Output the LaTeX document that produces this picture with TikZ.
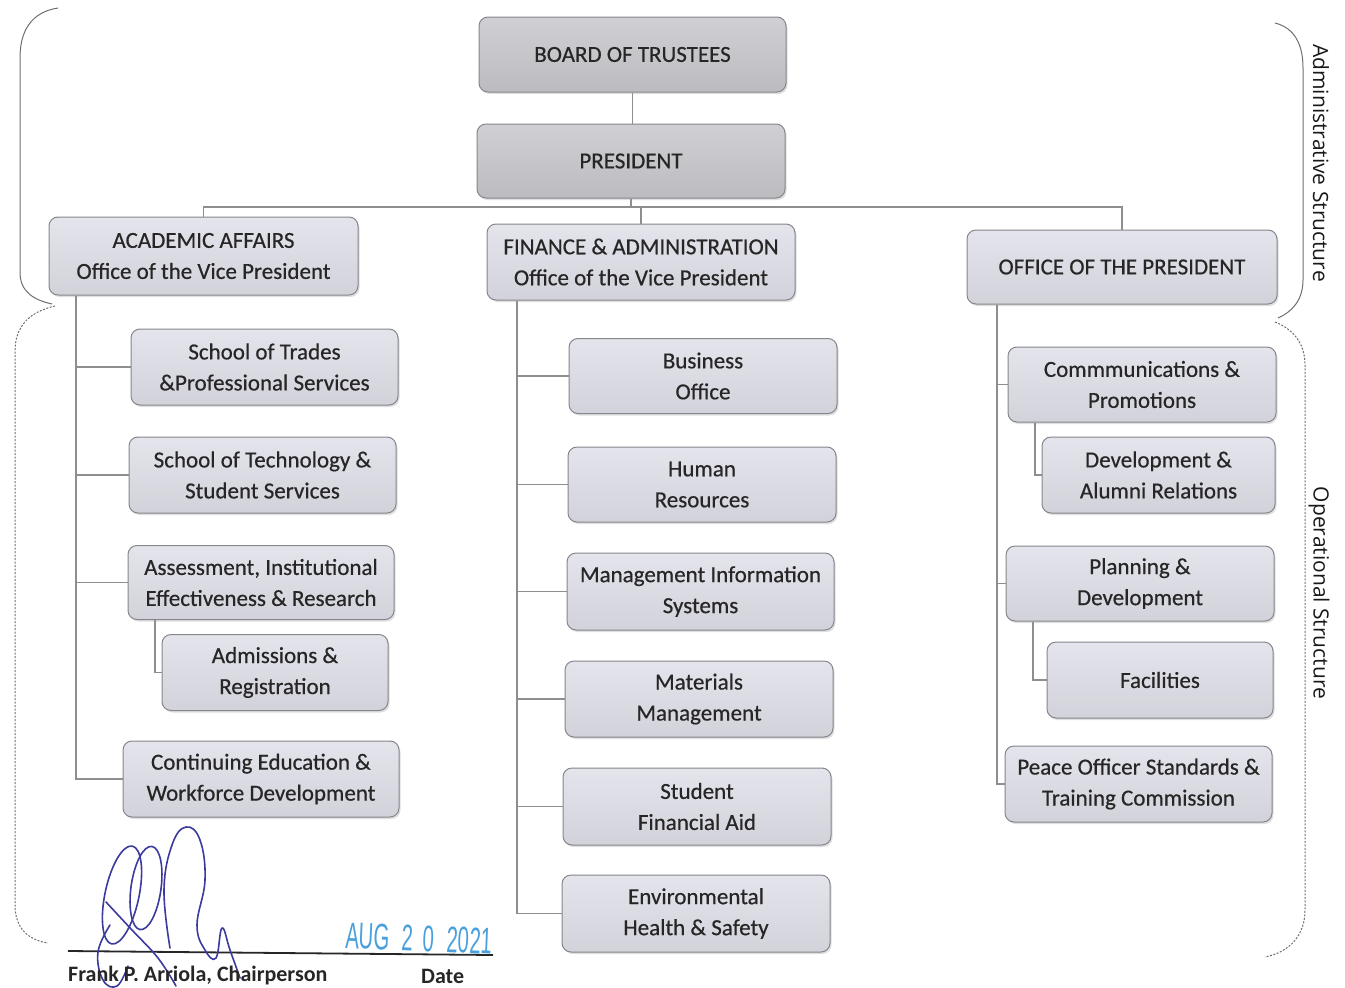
\documentclass[tikz,border=0pt]{standalone}
\usepackage{fontspec}
\setmainfont{Carlito}
\newfontfamily\boxfont[FakeBold=0.5]{Carlito}
\newfontfamily\sidefont{Open Sans}
\newfontfamily\stampfont{Liberation Sans}
\usetikzlibrary{shadows}
\definecolor{boxtop}{HTML}{E4E4EC}
\definecolor{boxbot}{HTML}{D2D2DA}
\definecolor{toptop}{HTML}{D0D0D4}
\definecolor{topbot}{HTML}{BCBCC0}
\definecolor{boxline}{HTML}{86868C}
\definecolor{textcol}{HTML}{262626}
\definecolor{linecol}{HTML}{8E8E8E}
\definecolor{bracecol}{HTML}{6E6E6E}
\definecolor{sigblue}{HTML}{3B3A9E}
\definecolor{stampblue}{HTML}{4AA0DC}
\begin{document}
\begin{tikzpicture}[x=1pt,y=-1pt,
  orgbox/.style={draw=boxline, line width=1pt, rounded corners=9pt, top color=boxtop, bottom color=boxbot,
    align=center, inner sep=0pt, font=\boxfont\fontsize{23}{31}\selectfont, text=textcol,
    drop shadow={shadow xshift=1.5pt, shadow yshift=-2pt, opacity=0.25}},
  topbox/.style={orgbox, top color=toptop, bottom color=topbot},
  link/.style={draw=linecol, line width=1.3pt},
  bracesolid/.style={draw=bracecol, line width=1pt},
  bracedash/.style={draw=bracecol, line width=1pt, dash pattern=on 2pt off 1.5pt},
  sidetext/.style={font=\sidefont\fontsize{21}{21}\selectfont, text=black!90},
  sig/.style={draw=sigblue, line width=1.6pt, line cap=round, line join=round},
  foot/.style={font=\bfseries\fontsize{22}{22}\selectfont, text=black!85, anchor=base west, inner sep=0pt}
]
\useasboundingbox (0,0) rectangle (1345,988);

% top level
\node[topbox, minimum width=307, minimum height=75] (board) at (632.5,54.5) {BOARD OF TRUSTEES};
\node[topbox, minimum width=308, minimum height=74] (pres) at (631,161) {PRESIDENT};

\node[orgbox, minimum width=309, minimum height=78] (aa) at (203.5,256) {ACADEMIC AFFAIRS\\Office of the Vice President};
\node[orgbox, minimum width=308, minimum height=76] (fin) at (641,262) {FINANCE \& ADMINISTRATION\\Office of the Vice President};
\node[orgbox, minimum width=310, minimum height=74] (office) at (1122,267) {OFFICE OF THE PRESIDENT};

% left column
\node[orgbox, minimum width=267, minimum height=76] (trades) at (264.5,367) {School of Trades\\\&Professional Services};
\node[orgbox, minimum width=267, minimum height=76] (tech) at (262.5,475) {School of Technology \&\\Student Services};
\node[orgbox, minimum width=266, minimum height=74] (assess) at (261,582.5) {Assessment, Institutional\\Effectiveness \& Research};
\node[orgbox, minimum width=226, minimum height=76] (adm) at (275,672.5) {Admissions \&\\Registration};
\node[orgbox, minimum width=276, minimum height=76] (cont) at (261,779) {Continuing Education \&\\Workforce Development};

% middle column
\node[orgbox, minimum width=268, minimum height=75] (busoff) at (703,376) {Business\\Office};
\node[orgbox, minimum width=268, minimum height=75] (hr) at (702,484.5) {Human\\Resources};
\node[orgbox, minimum width=267, minimum height=77] (mis) at (700.5,591.5) {Management Information\\Systems};
\node[orgbox, minimum width=268, minimum height=76] (mat) at (699,699) {Materials\\Management};
\node[orgbox, minimum width=268, minimum height=77] (sfa) at (697,806.5) {Student\\Financial Aid};
\node[orgbox, minimum width=268, minimum height=77] (env) at (696,913.5) {Environmental\\Health \& Safety};

% right column
\node[orgbox, minimum width=268, minimum height=75] (comm) at (1142,384.5) {Commmunications \&\\Promotions};
\node[orgbox, minimum width=233, minimum height=76] (dev) at (1158.5,475) {Development \&\\Alumni Relations};
\node[orgbox, minimum width=268, minimum height=75] (plan) at (1140,583.5) {Planning \&\\Development};
\node[orgbox, minimum width=226, minimum height=76] (fac) at (1160,680) {Facilities};
\node[orgbox, minimum width=267, minimum height=76] (peace) at (1138.5,784) {Peace Officer Standards \&\\Training Commission};

% connectors
\coordinate (busy) at (0,207);
\draw[link] (board.south) -- (board.south |- pres.north);
\draw[link] (pres.south) -- (pres.south |- busy);
\draw[link] (aa.north) -- (aa.north |- busy) -- (office.north |- busy) -- (office.north);
\draw[link] (fin.north |- busy) -- (fin.north);

\coordinate (lx) at (76,0);
\draw[link] (aa.south -| lx) |- (cont.west);
\foreach \n in {trades,tech,assess} \draw[link] (lx |- \n.west) -- (\n.west);
\coordinate (lsub) at (155,0);
\draw[link] (assess.south -| lsub) |- (adm.west);

\coordinate (mx) at (517,0);
\draw[link] (fin.south -| mx) |- (env.west);
\foreach \n in {busoff,hr,mis,mat,sfa} \draw[link] (mx |- \n.west) -- (\n.west);

\coordinate (rx) at (997,0);
\draw[link] (office.south -| rx) |- (peace.west);
\foreach \n in {comm,plan} \draw[link] (rx |- \n.west) -- (\n.west);
\coordinate (rsubA) at (1035,0);
\draw[link] (comm.south -| rsubA) |- (dev.west);
\coordinate (rsubB) at (1033,0);
\draw[link] (plan.south -| rsubB) |- (fac.west);

% braces
\draw[bracesolid] (58,8) .. controls (32,12) and (20,30) .. (20,58) -- (20,272) .. controls (20,292) and (34,300) .. (52,304);
\draw[bracesolid] (1275,23) .. controls (1295,28) and (1303,45) .. (1303,68) -- (1303,280) .. controls (1303,300) and (1292,312) .. (1278,318);
\draw[bracedash] (55,306) .. controls (30,312) and (15,325) .. (15,352) -- (15,905) .. controls (15,928) and (28,940) .. (48,943);
\draw[bracedash] (1275,322) .. controls (1295,330) and (1305,345) .. (1305,365) -- (1305,910) .. controls (1305,935) and (1290,952) .. (1265,957);

\node[sidetext, rotate=-90] (admlabel) at (1321,163) {Administrative Structure};
\node[sidetext, rotate=-90] (oplabel) at (1319,593) {Operational Structure};

% signature block
\coordinate (sigA) at (68,951);
\coordinate (sigB) at (493,955);
\draw[line width=1.8pt, black!85] (sigA) -- (sigB);
\draw[sig, rotate around={-12:(122,895)}] (122,895) ellipse [x radius=17, y radius=50];
\draw[sig, rotate around={-8:(146,888)}] (146,888) ellipse [x radius=15, y radius=42];
\draw[sig] plot[smooth, tension=0.7] coordinates {(170,948) (164,890) (172,845) (186,827) (200,840) (205,880) (197,925) (205,950) (216,958) (222,928) (230,950) (240,978)};
\draw[sig] plot[smooth, tension=0.7] coordinates {(106,902) (132,930) (158,958) (176,986)};
\draw[sig] plot[smooth, tension=0.7] coordinates {(110,925) (98,952) (103,980) (117,986) (128,966)};

\node[foot] (chair) at (68,981) {Frank P. Arriola, Chairperson};
\node[foot] (datelbl) at (421,983) {Date};
\node[anchor=base west, inner sep=0pt, text=stampblue, font=\stampfont\fontsize{37}{37}\selectfont, rotate=-2.5] (stamp) at (345,948)
  {\scalebox{0.55}[1]{AUG\hspace{0.6em}2\hspace{0.5em}0\hspace{0.6em}2021}};
\end{tikzpicture}
\end{document}
